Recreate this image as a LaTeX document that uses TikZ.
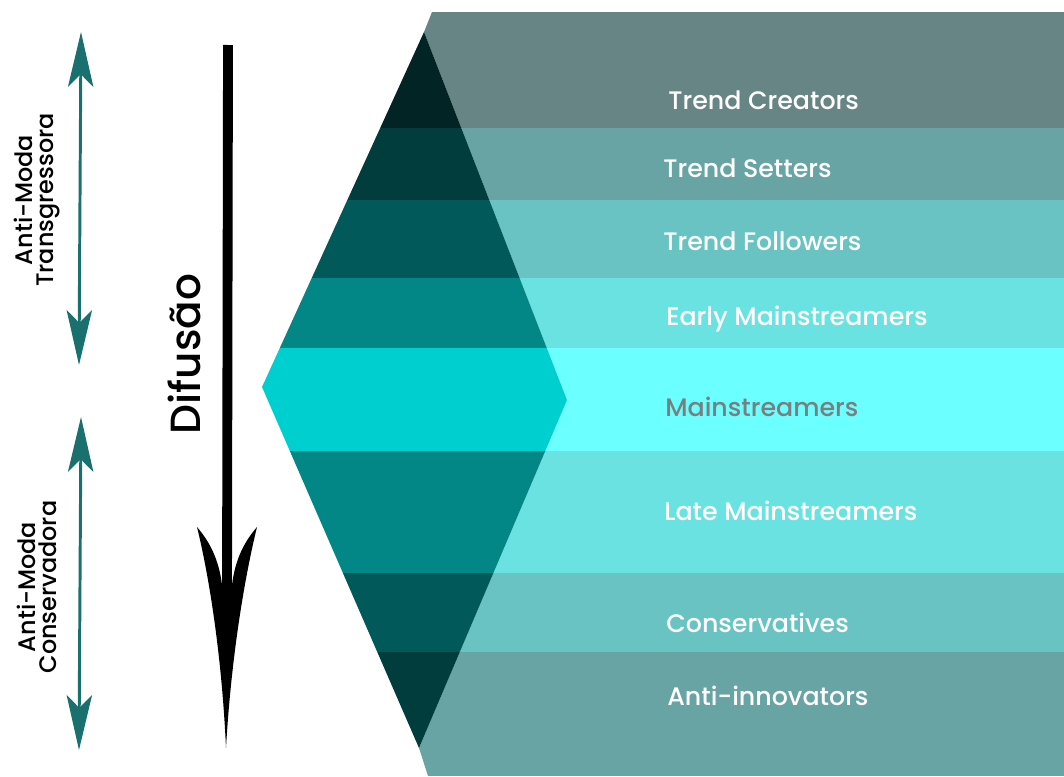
\documentclass[tikz,border=0pt]{standalone}
\usepackage{fontspec}
\setmainfont{Poppins Medium}
\usetikzlibrary{arrows.meta}

% band colours, light (right) and dark (inside the diamond)
\definecolor{rA}{HTML}{678584}
\definecolor{rB}{HTML}{68A4A4}
\definecolor{rC}{HTML}{69C3C3}
\definecolor{rD}{HTML}{6BE2E2}
\definecolor{rE}{HTML}{6CFFFF}
\definecolor{dA}{HTML}{022424}
\definecolor{dB}{HTML}{013D3D}
\definecolor{dC}{HTML}{015959}
\definecolor{dD}{HTML}{028686}
\definecolor{dE}{HTML}{00CFCF}
\definecolor{tealarr}{HTML}{1A6F6F}
\definecolor{midgrey}{HTML}{777F80}

\begin{document}
\begin{tikzpicture}[x=0.025cm, y=-0.025cm,
        every node/.append style={inner sep=0pt},
        band/.style={anchor=west, text=white, font=\fontsize{18}{20}\selectfont},
        side/.style={rotate=90, align=center, font=\fontsize{17}{15.5}\selectfont},
        twoway/.style={draw=tealarr, line width=2.1pt,
            {Stealth[length=39pt, width=18pt, inset=9pt]}-{Stealth[length=39pt, width=18pt, inset=9pt]}}]
    \useasboundingbox (0,0) rectangle (1064,776);

    % light bands on the right
    \begin{scope}
        \clip (432,12) -- (1064,12) -- (1064,776) -- (428,776) -- (419,748) -- (567,400) -- (424,32) -- cycle;
        \fill [rA] (400,12) rectangle (1064,128);
        \fill [rB] (400,128) rectangle (1064,200);
        \fill [rC] (400,200) rectangle (1064,278);
        \fill [rD] (400,278) rectangle (1064,348);
        \fill [rE] (400,348) rectangle (1064,451);
        \fill [rD] (400,451) rectangle (1064,573);
        \fill [rC] (400,573) rectangle (1064,652);
        \fill [rB] (400,652) rectangle (1064,776);
    \end{scope}

    % dark bands in the diamond
    \begin{scope}
        \clip (424,32) -- (567,400) -- (419,748) -- (262,387) -- cycle;
        \fill [dA] (250,20) rectangle (580,128);
        \fill [dB] (250,128) rectangle (580,200);
        \fill [dC] (250,200) rectangle (580,278);
        \fill [dD] (250,278) rectangle (580,348);
        \fill [dE] (250,348) rectangle (580,451);
        \fill [dD] (250,451) rectangle (580,573);
        \fill [dC] (250,573) rectangle (580,652);
        \fill [dB] (250,652) rectangle (580,760);
    \end{scope}

    \node [band] (TC) at (668,100) {Trend Creators};
    \node [band] (TS) at (663,168) {Trend Setters};
    \node [band] (TF) at (663,241) {Trend Followers};
    \node [band] (EM) at (666,319) {Early Mainstreamers};
    \node [band, text=midgrey] (MS) at (665,407) {Mainstreamers};
    \node [band] (LM) at (664,511) {Late Mainstreamers};
    \node [band] (CO) at (666,623) {Conservatives};
    \node [band] (AI) at (667,696) {Anti-innovators};

    % diffusion arrow
    \node [rotate=90, font=\fontsize{30}{32}\selectfont] (D) at (184,354) {Difusão};
    \coordinate (Dtop) at (228,45);
    \coordinate (Dneck) at (227,600);
    \coordinate (Dtip) at (226,748);
    \draw [line width=7pt] (Dtop) -- (Dneck);
    \fill (Dtip) .. controls (222,660) and (210,580) .. (197,527)
        .. controls (210,542) and (219,560) .. (222,585) -- (232,585)
        .. controls (235,560) and (244,542) .. (257,527)
        .. controls (244,580) and (231,660) .. (Dtip) -- cycle;

    % anti-fashion ranges
    \node [side] (AT) at (37,200) {Anti-Moda\\Transgressora};
    \node [side] (AC) at (37,587) {Anti-Moda\\Conservadora};
    \coordinate (ATa) at (81,32);
    \coordinate (ATb) at (79,365);
    \coordinate (ACa) at (81,417);
    \coordinate (ACb) at (79,750);
    \draw [twoway] (ATa) -- (ATb);
    \draw [twoway] (ACa) -- (ACb);
\end{tikzpicture}
\end{document}
